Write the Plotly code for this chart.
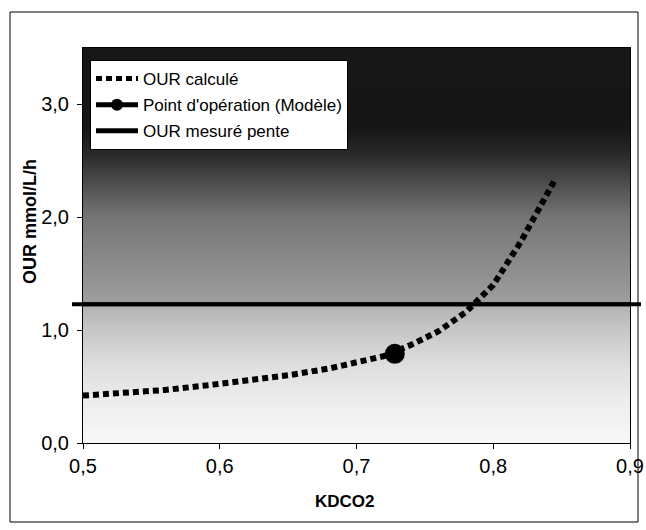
import numpy as np
import plotly.graph_objects as go

# OUR computed as a function of KDCO2
kdco2 = [0.50, 0.53, 0.56, 0.59, 0.62, 0.65, 0.68, 0.70, 0.72, 0.74, 0.76, 0.78, 0.80, 0.82, 0.84, 0.845]
our_calc = [0.42, 0.44, 0.47, 0.51, 0.55, 0.60, 0.66, 0.71, 0.77, 0.87, 0.99, 1.16, 1.40, 1.78, 2.22, 2.33]

# operating point from the model
op_kdco2 = [0.728]
op_our = [0.79]

# measured OUR (slope)
our_mesure = 1.23

x_range = [0.5, 0.9]
y_range = [0.0, 3.5]
x_ticks = [0.5, 0.6, 0.7, 0.8, 0.9]
y_ticks = [0.0, 1.0, 2.0, 3.0]

W, H = 646, 530
ML, MR, MT, MB = 83, 16, 48, 87
PW, PH = W - ML - MR, H - MT - MB


def px_x(p):
    return (p - ML) / PW


def px_y(p):
    return (H - MB - p) / PH


FONT = "Liberation Sans, Arial, sans-serif"

fig = go.Figure()

fig.add_trace(go.Scatter(
    x=kdco2, y=our_calc, mode="lines", name="OUR calculé",
    line=dict(color="black", width=6, dash="6px,4px"),
    legendgroup="a",
))
fig.add_trace(go.Scatter(
    x=op_kdco2, y=op_our, mode="lines+markers", name="Point d'opération (Modèle)",
    line=dict(color="black", width=2),
    marker=dict(color="black", size=20),
    legendgroup="b",
))
fig.add_trace(go.Scatter(
    x=x_range, y=[our_mesure, our_mesure], mode="lines", name="OUR mesuré pente",
    line=dict(color="black", width=4),
    legendgroup="c",
))

shapes = []

# vertical grey gradient behind the plot area (dark at top, light at bottom)
stops_pos = [0.0, 0.10, 0.20, 0.30, 0.35, 0.355, 0.45, 0.57, 0.65, 0.74, 0.80, 1.0]
stops_val = [248, 238, 222, 195, 178, 158, 140, 118, 82, 38, 22, 24]
n_bands = 120
for i in range(n_bands):
    y0 = i / n_bands
    y1 = (i + 1) / n_bands
    v = int(np.interp((y0 + y1) / 2, stops_pos, stops_val))
    shapes.append(dict(
        type="rect", xref="paper", yref="paper", x0=0, x1=1, y0=y0, y1=y1 + 0.002,
        fillcolor=f"rgb({v},{v},{v})", line=dict(width=0), layer="below",
    ))

# measured line runs slightly past the plot edges
shapes.append(dict(
    type="line", xref="paper", yref="y", x0=px_x(72), x1=px_x(641),
    y0=our_mesure, y1=our_mesure, line=dict(color="black", width=4), layer="above",
))

# outer chart frame
shapes.append(dict(
    type="rect", xref="paper", yref="paper",
    x0=px_x(10), x1=px_x(638), y0=px_y(522), y1=px_y(12),
    line=dict(color="black", width=1), fillcolor="rgba(0,0,0,0)", layer="above",
))

fig.update_layout(
    width=W, height=H,
    margin=dict(l=ML, r=MR, t=MT, b=MB, autoexpand=False),
    paper_bgcolor="white",
    plot_bgcolor="white",
    separators=", ",
    font=dict(family=FONT, color="black", size=17),
    shapes=shapes,
    showlegend=True,
    legend=dict(
        x=px_x(90), y=px_y(60), xanchor="left", yanchor="top",
        bgcolor="white", bordercolor="black", borderwidth=1,
        font=dict(family=FONT, size=17, color="black"),
        tracegroupgap=1,
        itemwidth=42,
        itemsizing="constant",
    ),
    annotations=[
        dict(text="<b>OUR mmol/L/h</b>", xref="paper", yref="paper",
             x=px_x(30), y=px_y(222), xanchor="center", yanchor="middle",
             textangle=-90, showarrow=False,
             font=dict(family=FONT, size=18, color="black")),
        dict(text="<b>KDCO2</b>", xref="paper", yref="paper",
             x=px_x(345), y=px_y(502), xanchor="center", yanchor="middle",
             showarrow=False,
             font=dict(family=FONT, size=17, color="black")),
    ],
)

fig.update_xaxes(
    range=x_range, tickvals=x_ticks, tickformat=".1f",
    showgrid=False, zeroline=False, automargin=False,
    showline=True, linecolor="black", linewidth=1, mirror=True,
    ticks="outside", ticklen=5, tickcolor="black",
    tickfont=dict(family=FONT, size=20, color="black"),
)
fig.update_yaxes(
    range=y_range, tickvals=y_ticks, tickformat=".1f",
    showgrid=False, zeroline=False, automargin=False,
    showline=True, linecolor="black", linewidth=1, mirror=True,
    ticks="outside", ticklen=5, tickcolor="black", ticklabelstandoff=4,
    tickfont=dict(family=FONT, size=20, color="black"),
)

fig.write_html("out.html")
